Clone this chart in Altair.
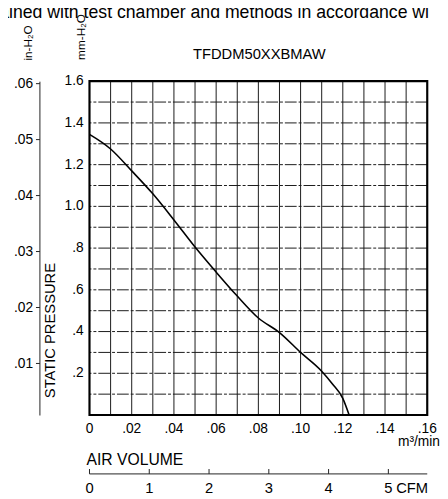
import altair as alt
import pandas as pd

# ---- data ----
flow = [0.0, 0.01, 0.02, 0.03, 0.04, 0.05, 0.06, 0.07, 0.08, 0.09, 0.10, 0.11, 0.115, 0.12, 0.123]
pressure = [1.345, 1.275, 1.17, 1.06, 0.935, 0.805, 0.685, 0.57, 0.465, 0.395, 0.30, 0.21, 0.15, 0.08, 0.0]

x_ticks = [0.0, 0.02, 0.04, 0.06, 0.08, 0.10, 0.12, 0.14, 0.16]
x_labels = ["0", ".02", ".04", ".06", ".08", ".10", ".12", ".14", ".16"]
y_ticks = [0.2, 0.4, 0.6, 0.8, 1.0, 1.2, 1.4, 1.6]
y_labels = [".2", ".4", ".6", ".8", "1.0", "1.2", "1.4", "1.6"]
in_ticks = [0.01, 0.02, 0.03, 0.04, 0.05, 0.06]
cfm_ticks = [0, 1, 2, 3, 4, 5]
cfm_labels = ["0", "1", "2", "3", "4", "5"]
x_grid = [0.01, 0.02, 0.03, 0.04, 0.05, 0.06, 0.07, 0.08, 0.09, 0.10, 0.11, 0.12, 0.13, 0.14, 0.15]
y_grid = [0.1, 0.2, 0.3, 0.4, 0.5, 0.6, 0.7, 0.8, 0.9, 1.0, 1.1, 1.2, 1.3, 1.4, 1.5]
CFM_TO_M3MIN = 0.0283168

FONT = "Liberation Sans"
W, H = 344, 340

X = alt.Scale(domain=[0, 0.16], nice=False, zero=False)
Y = alt.Scale(domain=[0, 1.6], nice=False, zero=False)

curve_df = pd.DataFrame({"q": flow, "p": pressure})
xg_df = pd.DataFrame({"x": x_grid})
yg_df = pd.DataFrame({"y": y_grid})
xt_df = pd.DataFrame({"x": x_ticks, "t": x_labels})
yt_df = pd.DataFrame({"y": y_ticks, "t": y_labels})
cfm_df = pd.DataFrame({"x": [c * CFM_TO_M3MIN for c in cfm_ticks], "t": cfm_labels})
frame_df = pd.DataFrame({"x0": [0.0], "x1": [0.16], "y0": [0.0], "y1": [1.6]})
one = pd.DataFrame({"a": [0]})

vgrid = alt.Chart(xg_df).mark_rule(color="#1a1a1a", strokeWidth=1).encode(
    x=alt.X("x:Q", scale=X, axis=None))
hgrid = alt.Chart(yg_df).mark_rule(color="#1a1a1a", strokeWidth=1, strokeDash=[12, 2, 3, 2]).encode(
    y=alt.Y("y:Q", scale=Y, axis=None))
frame = alt.Chart(frame_df).mark_rect(fillOpacity=0, stroke="black", strokeWidth=2.2).encode(
    x=alt.X("x0:Q", scale=X, axis=None), x2="x1:Q",
    y=alt.Y("y0:Q", scale=Y, axis=None), y2="y1:Q")
curve = alt.Chart(curve_df).mark_line(color="black", strokeWidth=1.6, interpolate="monotone").encode(
    x=alt.X("q:Q", scale=X, axis=None), y=alt.Y("p:Q", scale=Y, axis=None))

ylab = alt.Chart(yt_df).mark_text(font=FONT, fontSize=14, align="right", baseline="middle", color="black").encode(
    x=alt.value(-6), y=alt.Y("y:Q", scale=Y, axis=None), text="t:N")
xlab = alt.Chart(xt_df).mark_text(font=FONT, fontSize=14, align="center", baseline="middle", color="black").encode(
    x=alt.X("x:Q", scale=X, axis=None), y=alt.value(354), text="t:N")

# CFM secondary axis
cfm_line = alt.Chart(frame_df).mark_rule(color="#222", strokeWidth=1).encode(
    x=alt.X("x0:Q", scale=X, axis=None), x2="x1:Q", y=alt.value(400))
cfm_tick = alt.Chart(cfm_df).mark_rule(color="#222", strokeWidth=1).encode(
    x=alt.X("x:Q", scale=X, axis=None), y=alt.value(395), y2=alt.value(400))
cfm_lab = alt.Chart(cfm_df).mark_text(font=FONT, fontSize=15, align="center", baseline="middle", color="black").encode(
    x=alt.X("x:Q", scale=X, axis=None), y=alt.value(414), text="t:N")
cfm_unit = alt.Chart(cfm_df.tail(1)).mark_text(font=FONT, fontSize=15, align="left", baseline="middle", dx=8, color="black").encode(
    x=alt.X("x:Q", scale=X, axis=None), y=alt.value(414), text=alt.value("CFM"))


def label(txt, x, y, size=14, angle=0, align="center"):
    return alt.Chart(one).mark_text(font=FONT, fontSize=size, angle=angle, align=align,
                                    baseline="middle", color="black").encode(
        x=alt.value(x), y=alt.value(y), text=alt.value(txt))


texts = [
    alt.Chart(one).mark_text(font=FONT, fontSize=18, align="left", baseline="alphabetic", color="black").encode(
        x=alt.value(-92), y=alt.value(-64), text=alt.value("ained with test chamber and methods in accordance wi")),
    label("TFDDM50XXBMAW", 173, -28, size=15),
    label("mm-H\u2082O", -9, -45, size=12, angle=270),
    label("in-H\u2082O", -63, -39, size=12, angle=270),
    label("STATIC  PRESSURE", -40, 254, size=15, angle=270),
    label("AIR VOLUME", -3, 386, size=16, align="left"),
    alt.Chart(one).mark_text(font=FONT, fontSize=14, align="right", baseline="middle", color="black").encode(
        x=alt.value(357), y=alt.value(368), text=alt.value("m\u00b3/min")),
]

main = alt.layer(vgrid, hgrid, frame, curve, ylab, xlab, cfm_line, cfm_tick, cfm_lab, cfm_unit, *texts)

in_axis = alt.Chart(pd.DataFrame({"v": in_ticks})).mark_point(opacity=0).encode(
    y=alt.Y("v:Q",
            scale=alt.Scale(domain=[0.00075, 0.0604], nice=False, zero=False),
            axis=alt.Axis(orient="left", offset=51, values=in_ticks,
                          labelExpr="replace(format(datum.value, '.2f'), '0.', '.')",
                          tickSize=4, tickColor="#222", domainColor="#222", domainWidth=1,
                          labelFont=FONT, labelFontSize=14, labelColor="black",
                          labelPadding=3, grid=False, title=None)))

chart = alt.layer(main, in_axis).resolve_scale(y="independent").properties(
    width=W, height=H,
    autosize=alt.AutoSizeParams(type="none"),
    padding={"left": 83, "top": 70, "right": 13, "bottom": 81},
).configure_view(strokeWidth=0)

chart.save("out.html", embed_options={"renderer": "svg", "actions": False})
